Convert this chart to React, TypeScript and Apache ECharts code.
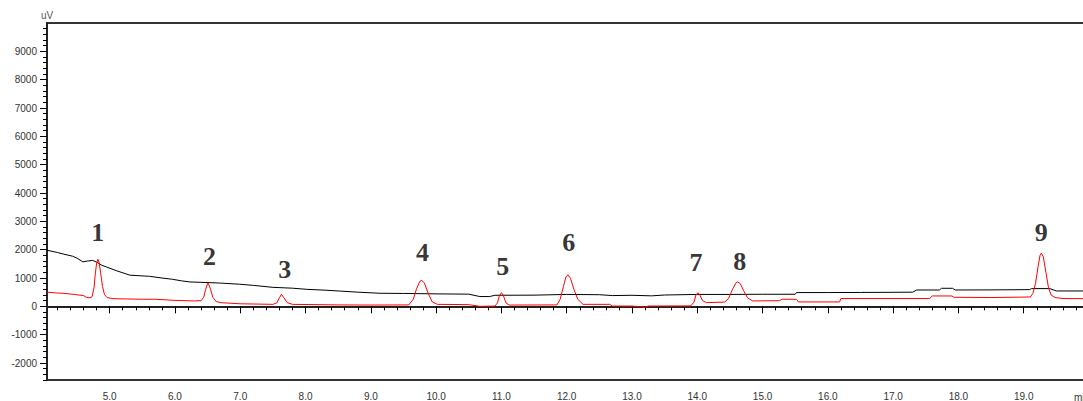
import React, { useEffect, useRef } from "react";
import * as echarts from "echarts";

// Retention time (min) vs. signal (uV)
const blackTrace: [number, number][] = [
  [4.04, 1980], [4.2, 1900], [4.3, 1840], [4.43, 1770], [4.5, 1700], [4.59, 1570], [4.66, 1600],
  [4.74, 1620], [4.8, 1560], [4.88, 1450], [4.95, 1390], [5.1, 1260], [5.31, 1100], [5.45, 1080],
  [5.61, 1060], [5.8, 1000], [5.96, 955], [6.1, 900], [6.23, 860], [6.49, 840], [6.7, 820],
  [6.99, 780], [7.2, 740], [7.5, 670], [7.8, 640], [8.02, 600], [8.3, 570], [8.52, 540], [8.8, 500],
  [9.14, 461], [9.5, 455], [10.0, 440], [10.5, 430], [10.67, 345], [10.82, 345], [10.9, 390],
  [11.5, 395], [12.0, 420], [12.5, 410], [12.7, 380], [13.0, 390], [13.3, 370], [13.5, 400],
  [14.0, 420], [14.5, 420], [15.0, 426], [15.5, 426], [15.52, 486], [16.0, 486], [16.5, 490],
  [17.0, 495], [17.3, 500], [17.36, 577], [17.71, 577], [17.74, 637], [17.91, 637], [17.95, 577],
  [18.5, 580], [19.09, 590], [19.12, 626], [19.4, 626], [19.5, 542], [20.0, 542],
];

const redTrace: [number, number][] = [
  [4.04, 500], [4.2, 470], [4.3, 460], [4.45, 420], [4.6, 380], [4.65, 310], [4.7, 300],
  [4.73, 340], [4.76, 650], [4.78, 1150], [4.8, 1520], [4.82, 1660], [4.84, 1540], [4.86, 1200],
  [4.89, 700], [4.92, 420], [4.96, 310], [5.05, 270], [5.5, 250], [5.7, 250], [6.0, 210],
  [6.3, 190], [6.4, 200], [6.44, 320], [6.47, 600], [6.505, 835], [6.54, 640], [6.58, 320],
  [6.63, 170], [6.7, 130], [7.0, 90], [7.5, 70], [7.56, 120], [7.6, 300], [7.63, 425], [7.67, 300],
  [7.72, 130], [7.8, 70], [8.5, 50], [9.0, 45], [9.58, 50], [9.65, 250], [9.7, 620], [9.75, 880],
  [9.78, 920], [9.82, 820], [9.88, 450], [9.94, 160], [10.02, 70], [10.5, 60], [10.67, 0],
  [10.9, 10], [10.94, 120], [10.97, 380], [11.0, 480], [11.03, 380], [11.07, 120], [11.12, 45],
  [11.85, 50], [11.9, 250], [11.95, 700], [11.99, 1050], [12.02, 1110], [12.06, 980], [12.11, 600],
  [12.17, 250], [12.25, 70], [12.66, 70], [12.7, 10], [13.0, 10], [13.2, -30], [13.25, 10],
  [13.9, 15], [13.95, 150], [13.98, 400], [14.01, 480], [14.04, 400], [14.08, 200], [14.14, 130],
  [14.42, 150], [14.48, 280], [14.54, 600], [14.59, 820], [14.62, 860], [14.66, 800], [14.71, 550],
  [14.77, 300], [14.85, 190], [15.26, 200], [15.3, 250], [15.52, 250], [15.55, 155], [16.18, 155],
  [16.2, 275], [17.56, 275], [17.6, 366], [17.9, 366], [17.93, 320], [18.5, 310], [19.1, 330],
  [19.14, 450], [19.18, 800], [19.22, 1400], [19.25, 1800], [19.27, 1875], [19.3, 1750],
  [19.34, 1200], [19.38, 650], [19.42, 400], [19.48, 310], [19.6, 275], [20.0, 270],
];

// Peak number labels: [time, signal position, text]
const peakLabels: [number, number, string][] = [
  [4.816, 2608, "1"], [6.53, 1763, "2"], [7.68, 1306, "3"], [9.79, 1904, "4"], [11.02, 1411, "5"],
  [12.03, 2256, "6"], [13.98, 1552, "7"], [14.65, 1587, "8"], [19.27, 2608, "9"],
];

const xTickLabels = [5, 6, 7, 8, 9, 10, 11, 12, 13, 14, 15, 16, 17, 18, 19];
const yTickLabels = [-2000, -1000, 0, 1000, 2000, 3000, 4000, 5000, 6000, 7000, 8000, 9000];

const X_MIN = 4.04;
const X_MAX = 20.0;
const Y_MIN = -2600;
const Y_MAX = 10000;

const xMinor: number[] = [];
for (let i = 21; i <= 99; i++) if (i % 5 !== 0) xMinor.push(i / 5);
const yMinor: number[] = [];
for (let v = -2600; v <= 10000; v += 200) if (v % 1000 !== 0) yMinor.push(v);

const labelFont = 'Arial, "Liberation Sans", sans-serif';

export default function App() {
  const ref = useRef<HTMLDivElement>(null);
  useEffect(() => {
    if (!ref.current) return;
    const chart = echarts.init(ref.current, undefined, { renderer: "svg" });
    const axisBase = { min: X_MIN, max: X_MAX, type: "value" as const };
    chart.setOption({
      animation: false,
      backgroundColor: "#ffffff",
      grid: {
        left: 47, top: 23, right: 11, bottom: 20, containLabel: false,
        show: true, borderColor: "#333", borderWidth: 2,
      },
      xAxis: [
        {
          ...axisBase,
          position: "bottom",
          axisLine: { show: true, lineStyle: { color: "#222", width: 2 } },
          axisTick: { show: true, customValues: xMinor, length: 4, lineStyle: { color: "#000", width: 1 } },
          axisLabel: {
            show: true, customValues: xTickLabels, margin: 11,
            formatter: (v: number) => v.toFixed(1),
            color: "#333", fontSize: 10, fontFamily: labelFont,
          },
          splitLine: { show: false },
        },
        {
          ...axisBase,
          position: "bottom",
          axisLine: { show: false },
          axisTick: { show: true, customValues: xTickLabels, length: 7, lineStyle: { color: "#000", width: 1 } },
          axisLabel: { show: false },
          splitLine: { show: false },
        },
      ],
      yAxis: [
        {
          type: "value", min: Y_MIN, max: Y_MAX, position: "left",
          name: "uV", nameLocation: "end", nameGap: 3,
          nameTextStyle: { color: "#555", fontSize: 10, fontFamily: labelFont, align: "center" },
          axisLine: { show: true, lineStyle: { color: "#222", width: 2 } },
          axisTick: { show: true, customValues: yMinor, length: 4, lineStyle: { color: "#000", width: 1 } },
          axisLabel: {
            show: true, customValues: yTickLabels, margin: 10,
            formatter: (v: number) => String(v),
            color: "#333", fontSize: 10, fontFamily: labelFont,
          },
          splitLine: { show: false },
        },
        {
          type: "value", min: Y_MIN, max: Y_MAX, position: "left",
          axisLine: { show: false },
          axisTick: { show: true, customValues: yTickLabels, length: 7, lineStyle: { color: "#000", width: 1 } },
          axisLabel: { show: false },
          splitLine: { show: false },
        },
      ],
      graphic: [
        {
          type: "text", left: 1074, top: 392,
          style: { text: "min", fill: "#333", font: `10px ${labelFont}` },
        },
      ],
      series: [
        {
          type: "line", data: blackTrace, xAxisIndex: 0, yAxisIndex: 0,
          showSymbol: false, symbol: "none", lineStyle: { color: "#000", width: 1 }, z: 3,
        },
        {
          type: "line", data: redTrace, xAxisIndex: 0, yAxisIndex: 0,
          showSymbol: false, symbol: "none", lineStyle: { color: "#ff0000", width: 1 }, z: 4,
        },
        {
          type: "scatter", data: peakLabels, xAxisIndex: 0, yAxisIndex: 0,
          symbolSize: 1, itemStyle: { color: "rgba(0,0,0,0)" }, z: 5,
          label: {
            show: true, position: "inside",
            formatter: (p: any) => p.value[2],
            color: "#000", fontSize: 26, fontWeight: "bold",
            fontFamily: '"Times New Roman", "Liberation Serif", serif',
          },
        },
      ],
    });
    return () => chart.dispose();
  }, []);
  return (
    <div style={{ position: "absolute", left: 0, top: 0, width: 1083, height: 401, overflow: "hidden", background: "#fff" }}>
      <div ref={ref} style={{ width: 1100, height: 401 }} />
    </div>
  );
}
